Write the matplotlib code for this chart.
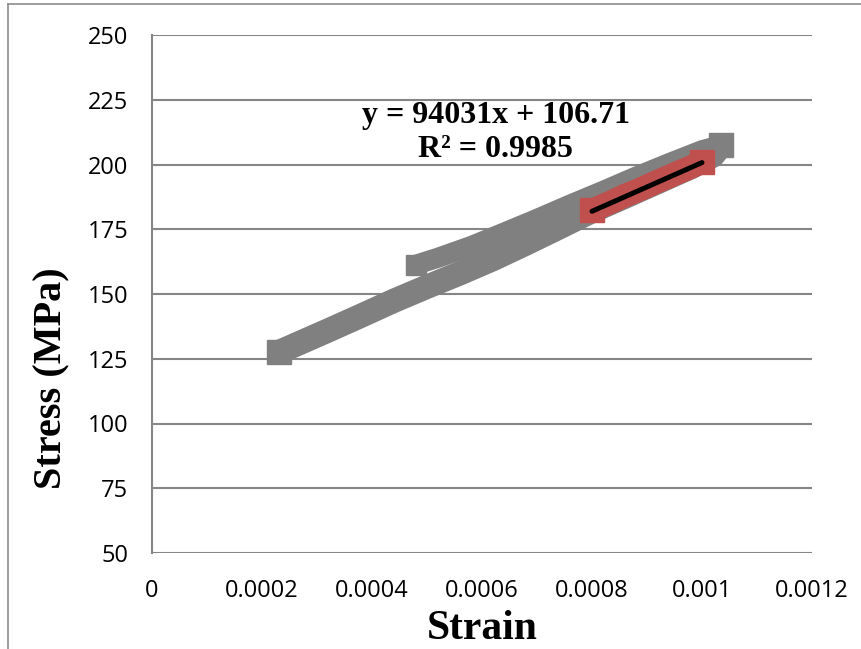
import matplotlib
matplotlib.use("Agg")
import matplotlib.pyplot as plt
from matplotlib.lines import Line2D

# loading branch of the stress-strain loop
load_strain = [0.00023, 0.00026, 0.00032, 0.00038, 0.00044, 0.00050, 0.00056, 0.00062,
               0.00068, 0.00074, 0.00080, 0.00086, 0.00092, 0.00098, 0.00102, 0.001035]
load_stress = [127.5, 130.3, 135.9, 141.6, 147.4, 152.8, 158.0, 163.5,
               169.5, 175.7, 182.0, 187.6, 193.3, 199.0, 203.5, 207.5]

# unloading branch, back down from the peak
unload_strain = [0.001035, 0.00100, 0.00094, 0.00088, 0.00082, 0.00076, 0.00070,
                 0.00064, 0.00058, 0.00052, 0.00048]
unload_stress = [207.5, 205.5, 200.5, 195.3, 189.8, 184.5, 179.0,
                 173.7, 168.5, 164.0, 161.3]

# points used for the linear fit
fit_strain = [0.00080, 0.00082, 0.00084, 0.00086, 0.00088, 0.00090,
              0.00092, 0.00094, 0.00096, 0.00098, 0.00100]
fit_stress = [182.3, 184.1, 186.0, 188.0, 189.7, 191.6,
              193.5, 195.3, 197.2, 199.0, 200.9]

slope = 94031
intercept = 106.71
r2 = 0.9985

x_ticks = [0, 0.0002, 0.0004, 0.0006, 0.0008, 0.001, 0.0012]
y_ticks = [50, 75, 100, 125, 150, 175, 200, 225, 250]

fig = plt.figure(figsize=(8.61, 6.49), dpi=100)
ax = fig.add_axes([152 / 861, 1 - 553 / 649, 660 / 861, 518 / 649])

gray = "#808080"
for xs, ys, w in [(load_strain, load_stress, 17.5), (unload_strain, unload_stress, 14.5)]:
    ax.plot(xs, ys, color=gray, lw=w, marker="s", ms=w, markevery=[0, -1],
            mec=gray, mfc=gray, solid_capstyle="butt", solid_joinstyle="round", zorder=3)

red = "#C0504D"
ax.plot(fit_strain, fit_stress, color=red, lw=17, marker="s", ms=17, markevery=[0, -1],
        mec=red, mfc=red, solid_capstyle="butt", solid_joinstyle="round", zorder=4)

tx = [fit_strain[0], fit_strain[-1]]
ty = [slope * v + intercept for v in tx]
ax.plot(tx, ty, color="black", lw=3.6, solid_capstyle="round", zorder=5)

ax.text(0.000625, 212.4, f"y = {slope}x + {intercept}\nR² = {r2}",
        ha="center", va="center", multialignment="center",
        family="Liberation Serif", fontweight="bold", fontsize=23, zorder=6)

ax.set_xlim(0, 0.0012)
ax.set_ylim(50, 250)
ax.set_xticks(x_ticks)
ax.set_xticklabels([f"{v:g}" for v in x_ticks])
ax.set_yticks(y_ticks)
ax.set_yticklabels([str(v) for v in y_ticks])
ax.tick_params(length=0, labelsize=17, colors="black")
ax.tick_params(axis="x", pad=19)
ax.tick_params(axis="y", pad=17)
for lab in ax.get_xticklabels() + ax.get_yticklabels():
    lab.set_family("Open Sans")

ax.yaxis.grid(True, color="#868686", lw=1.5)
ax.set_axisbelow(True)
for side in ["top", "right", "bottom"]:
    ax.spines[side].set_visible(False)
ax.spines["left"].set_color("#868686")
ax.spines["left"].set_linewidth(1.5)

fig.text(52 / 861, 1 - 378 / 649, "Stress (MPa)", rotation=90, ha="center", va="center",
         family="Liberation Serif", fontweight="bold", fontsize=29)
fig.text(482 / 861, 1 - 639 / 649, "Strain", ha="center", va="baseline",
         family="Liberation Serif", fontweight="bold", fontsize=30)

# chart frame edges
fig.add_artist(Line2D([8 / 861, 8 / 861], [0, 1 - 4 / 649], color="#8c8c8c", lw=1.2))
fig.add_artist(Line2D([8 / 861, 1], [1 - 4 / 649, 1 - 4 / 649], color="#8c8c8c", lw=1.2))

fig.savefig("out.png", dpi=100)
